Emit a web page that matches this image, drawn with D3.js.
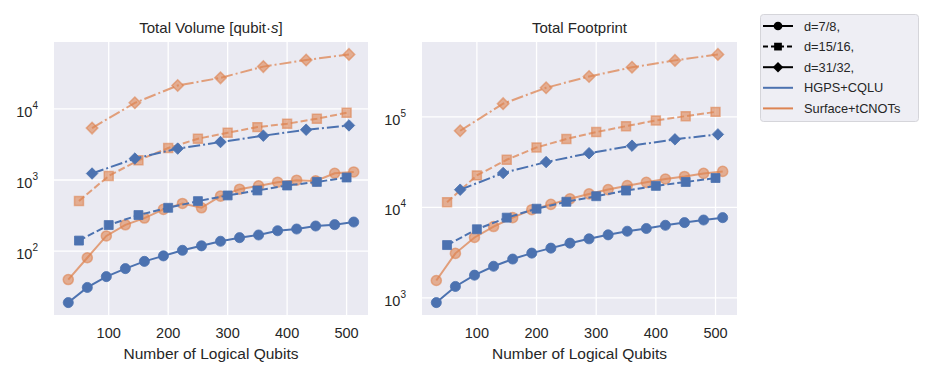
<!DOCTYPE html>
<html>
<head>
<meta charset="utf-8">
<script src="https://cdn.jsdelivr.net/npm/d3@7"></script>
<style>
  body { margin: 0; background: #fff; }
  text { font-family: "Liberation Sans", Arial, sans-serif; fill: #262626; }
</style>
</head>
<body>
<script>
const W = 947, H = 379;
const BLUE = '#4C72B0', ORANGE = '#DD8452';

// x positions (number of logical qubits) for each code distance
const xD7 = [32, 64, 96, 128, 160, 192, 224, 256, 288, 320, 352, 384, 416, 448, 480, 512];
const xD15 = [50, 100, 150, 200, 250, 300, 350, 400, 450, 500];
const xD31 = [72, 144, 216, 288, 360, 432, 504];
const xTicks = [100, 200, 300, 400, 500];

// Total volume [qubit·s]
const volHgps7 = [19, 31, 44, 57, 72, 86, 103, 119, 138, 155, 169, 194, 205, 226, 236, 257];
const volSurf7 = [40, 81, 164, 235, 292, 387, 469, 407, 593, 743, 826, 931, 994, 971, 1245, 1297];
const volHgps15 = [141, 233, 322, 407, 505, 607, 713, 837, 940, 1084];
const volSurf15 = [507, 1141, 1892, 2812, 3802, 4613, 5530, 6170, 7250, 8795];
const volHgps31 = [1233, 2000, 2760, 3414, 4190, 5080, 5840];
const volSurf31 = [5360, 12130, 21200, 27200, 39100, 48400, 58000];

// Total footprint
const fpHgps7 = [889, 1340, 1786, 2240, 2690, 3130, 3550, 4030, 4500, 4980, 5460, 5850, 6350, 6800, 7260, 7710];
const fpSurf7 = [1560, 3110, 4660, 6150, 7710, 9440, 10800, 12450, 14100, 15740, 17400, 18930, 20610, 22000, 23750, 25000];
const fpHgps15 = [3840, 5740, 7710, 9680, 11550, 13300, 15360, 17300, 19100, 21130];
const fpSurf15 = [11430, 22600, 33600, 46000, 57000, 68000, 79000, 91400, 101900, 113600];
const fpHgps31 = [15700, 24000, 31700, 39700, 48100, 56500, 64100];
const fpSurf31 = [70300, 140000, 210000, 279000, 353000, 421000, 490000];

const distLabels = ['d=7/8,', 'd=15/16,', 'd=31/32,'];
const codeLabels = ['HGPS+CQLU', 'Surface+tCNOTs'];
const volTicks = [1e2, 1e3, 1e4];
const fpTicks = [1e3, 1e4, 1e5];

// matplotlib 'D' marker: a square turned 45 degrees
const styles = {
  d7: { dash: null, shape: d3.symbolCircle, size: 80, rot: 0 },
  d15: { dash: '7,3', shape: d3.symbolSquare, size: 80, rot: 0 },
  d31: { dash: '12,3,2,3', shape: d3.symbolSquare, size: 66, rot: 45 }
};

function buildSeries(h7, s7, h15, s15, h31, s31) {
  return [
    { xs: xD7, ys: h7, st: styles.d7, color: BLUE, alpha: 1 },
    { xs: xD7, ys: s7, st: styles.d7, color: ORANGE, alpha: 0.6 },
    { xs: xD15, ys: h15, st: styles.d15, color: BLUE, alpha: 1 },
    { xs: xD15, ys: s15, st: styles.d15, color: ORANGE, alpha: 0.6 },
    { xs: xD31, ys: h31, st: styles.d31, color: BLUE, alpha: 1 },
    { xs: xD31, ys: s31, st: styles.d31, color: ORANGE, alpha: 0.6 }
  ];
}

const svg = d3.select('body').append('svg')
  .attr('width', W).attr('height', H);

function panel(opts) {
  const { left, right, top, bottom, title, series, ticks } = opts;
  const g = svg.append('g');

  // matplotlib-like 5% margins
  const allX = series.flatMap(s => s.xs);
  const xmin = d3.min(allX), xmax = d3.max(allX), xpad = (xmax - xmin) * 0.05;
  const allY = series.flatMap(s => s.ys).map(Math.log10);
  const lmin = d3.min(allY), lmax = d3.max(allY), lpad = (lmax - lmin) * 0.05;

  const x = d3.scaleLinear().domain([xmin - xpad, xmax + xpad]).range([left, right]);
  const y = d3.scaleLog().domain([10 ** (lmin - lpad), 10 ** (lmax + lpad)]).range([bottom, top]);

  g.append('rect').attr('x', left).attr('y', top)
    .attr('width', right - left).attr('height', bottom - top)
    .attr('fill', '#EAEAF2');

  // grid
  g.append('g').selectAll('line').data(xTicks).join('line')
    .attr('x1', d => x(d)).attr('x2', d => x(d))
    .attr('y1', top).attr('y2', bottom)
    .attr('stroke', '#fff').attr('stroke-width', 1.3);
  g.append('g').selectAll('line').data(ticks).join('line')
    .attr('x1', left).attr('x2', right)
    .attr('y1', d => y(d)).attr('y2', d => y(d))
    .attr('stroke', '#fff').attr('stroke-width', 1.3);

  // x tick labels
  g.append('g').selectAll('text').data(xTicks).join('text')
    .attr('x', d => x(d)).attr('y', bottom + 23)
    .attr('text-anchor', 'middle').attr('font-size', 14.5)
    .text(d => d);

  // y tick labels 10^n
  const yl = g.append('g').selectAll('text').data(ticks).join('text')
    .attr('x', left - 16).attr('y', d => y(d) + 8)
    .attr('text-anchor', 'end').attr('font-size', 14.5);
  yl.append('tspan').text('10');
  yl.append('tspan').attr('font-size', 10).attr('dy', -8)
    .text(d => Math.round(Math.log10(d)));

  // axis label and title
  g.append('text').attr('x', (left + right) / 2).attr('y', bottom + 44)
    .attr('text-anchor', 'middle').attr('font-size', 15.5)
    .text('Number of Logical Qubits');
  const t = g.append('text').attr('x', (left + right) / 2).attr('y', top - 9)
    .attr('text-anchor', 'middle').attr('font-size', 15);
  title(t);

  const line = d3.line().x(d => x(d[0])).y(d => y(d[1]));
  series.forEach(s => {
    const pts = s.xs.map((v, i) => [v, s.ys[i]]);
    const sg = g.append('g');
    sg.append('path').datum(pts)
      .attr('d', line)
      .attr('fill', 'none')
      .attr('stroke', s.color)
      .attr('stroke-opacity', s.alpha < 1 ? 0.75 : 1)
      .attr('stroke-width', 2)
      .attr('stroke-dasharray', s.st.dash);
    sg.selectAll('path.m').data(pts).join('path')
      .attr('class', 'm')
      .attr('transform', d => `translate(${x(d[0])},${y(d[1])}) rotate(${s.st.rot})`)
      .attr('d', d3.symbol().type(s.st.shape).size(s.st.size))
      .attr('fill', s.color)
      .attr('fill-opacity', s.alpha)
      .attr('stroke', s.color)
      .attr('stroke-opacity', s.alpha)
      .attr('stroke-width', s.alpha < 1 ? 1.5 : 0.8);
  });
}

panel({
  left: 54, right: 368, top: 42, bottom: 315,
  series: buildSeries(volHgps7, volSurf7, volHgps15, volSurf15, volHgps31, volSurf31),
  ticks: volTicks,
  title: t => {
    t.append('tspan').text('Total Volume [qubit·');
    t.append('tspan').attr('font-style', 'italic').text('s');
    t.append('tspan').text(']');
  }
});

panel({
  left: 422, right: 737, top: 42, bottom: 315,
  series: buildSeries(fpHgps7, fpSurf7, fpHgps15, fpSurf15, fpHgps31, fpSurf31),
  ticks: fpTicks,
  title: t => t.text('Total Footprint')
});

// legend
const lg = svg.append('g');
lg.append('rect').attr('x', 760.5).attr('y', 14.5).attr('width', 158).attr('height', 107)
  .attr('rx', 3).attr('fill', '#EEEEF4').attr('stroke', '#D5D5DA');
const legendRows = [
  { label: distLabels[0], color: '#000', dash: null, shape: d3.symbolCircle, size: 60, rot: 0 },
  { label: distLabels[1], color: '#000', dash: '5,3', shape: d3.symbolSquare, size: 60, rot: 0 },
  { label: distLabels[2], color: '#000', dash: null, shape: d3.symbolSquare, size: 55, rot: 45 },
  { label: codeLabels[0], color: BLUE, dash: null, shape: null },
  { label: codeLabels[1], color: ORANGE, dash: null, shape: null }
];
legendRows.forEach((r, i) => {
  const cy = 26 + i * 20.6;
  lg.append('line').attr('x1', 763).attr('x2', 793).attr('y1', cy).attr('y2', cy)
    .attr('stroke', r.color).attr('stroke-width', 2)
    .attr('stroke-dasharray', r.dash);
  if (r.shape) {
    lg.append('path').attr('transform', `translate(778,${cy}) rotate(${r.rot})`)
      .attr('d', d3.symbol().type(r.shape).size(r.size)).attr('fill', '#000');
  }
  lg.append('text').attr('x', 804).attr('y', cy + 4.5).attr('font-size', 12.8).text(r.label);
});
</script>
</body>
</html>
